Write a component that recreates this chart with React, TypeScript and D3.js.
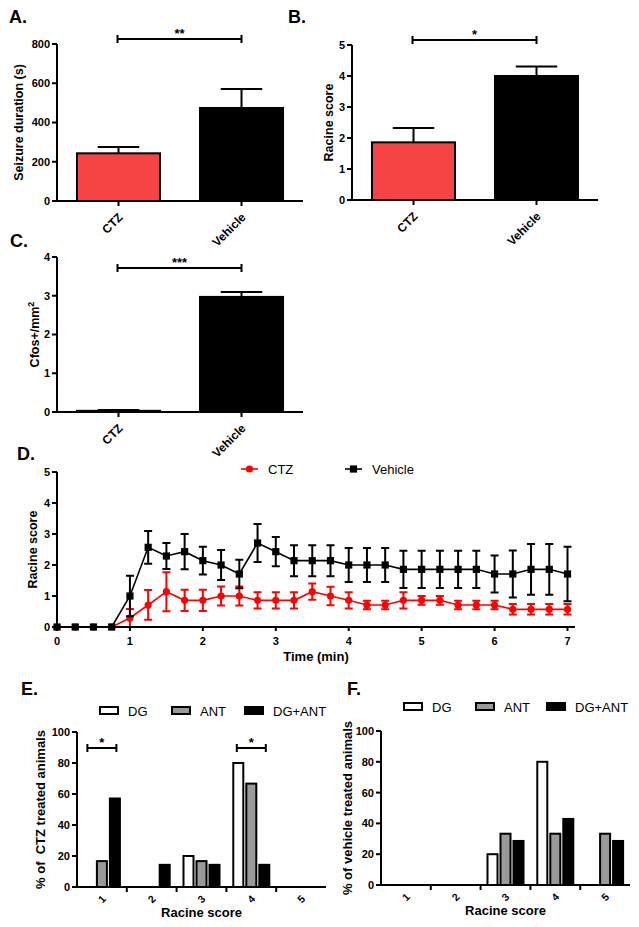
import React from 'react';
import * as d3 from 'd3';

const FONT = "'Liberation Sans', Arial, Helvetica, sans-serif";

// Panels A-C
const treatments = ['CTZ', 'Vehicle'];
const treatmentFills = ['#f64343', '#000000'];
const seizureMean = [243, 474];
const seizureSem = [32, 97];
const seizureTicks = [0, 200, 400, 600, 800];
const racineMean = [1.86, 4.0];
const racineSem = [0.46, 0.31];
const racineTicks = [0, 1, 2, 3, 4, 5];
const cfosMean = [0.03, 2.97];
const cfosSem = [0.02, 0.13];
const cfosTicks = [0, 1, 2, 3, 4];

// Panel D
const times = [0, 0.25, 0.5, 0.75, 1, 1.25, 1.5, 1.75, 2, 2.25, 2.5, 2.75, 3, 3.25, 3.5, 3.75, 4, 4.25, 4.5, 4.75, 5, 5.25, 5.5, 5.75, 6, 6.25, 6.5, 6.75, 7];
const ctzScore = [0, 0, 0, 0, 0.29, 0.71, 1.14, 0.86, 0.86, 1.0, 1.0, 0.86, 0.86, 0.86, 1.14, 1.0, 0.86, 0.71, 0.71, 0.86, 0.86, 0.86, 0.71, 0.71, 0.71, 0.57, 0.57, 0.57, 0.57];
const ctzSem = [0, 0, 0, 0, 0.29, 0.48, 0.63, 0.34, 0.34, 0.31, 0.31, 0.26, 0.26, 0.26, 0.26, 0.3, 0.26, 0.14, 0.14, 0.26, 0.14, 0.14, 0.14, 0.14, 0.14, 0.17, 0.17, 0.17, 0.17];
const vehScore = [0, 0, 0, 0, 1.0, 2.57, 2.29, 2.43, 2.14, 2.0, 1.71, 2.71, 2.43, 2.14, 2.14, 2.14, 2.0, 2.0, 2.0, 1.86, 1.86, 1.86, 1.86, 1.86, 1.71, 1.71, 1.86, 1.86, 1.71];
const vehSem = [0, 0, 0, 0, 0.65, 0.53, 0.42, 0.57, 0.45, 0.48, 0.46, 0.61, 0.47, 0.5, 0.5, 0.5, 0.55, 0.55, 0.55, 0.6, 0.6, 0.6, 0.6, 0.6, 0.6, 0.76, 0.82, 0.82, 0.88];
const timeTicks = [0, 1, 2, 3, 4, 5, 6, 7];

// Panels E-F
const scores = ['1', '2', '3', '4', '5'];
const regions = ['DG', 'ANT', 'DG+ANT'];
const regionFills = ['#ffffff', '#9a9a9a', '#000000'];
const ctzDG = [0, 0, 20, 80, 0];
const ctzANT = [16.7, 0, 16.7, 66.7, 0];
const ctzDGANT = [57.1, 14.3, 14.3, 14.3, 0];
const vehDG = [0, 0, 20, 80, 0];
const vehANT = [0, 0, 33.3, 33.3, 33.3];
const vehDGANT = [0, 0, 28.6, 42.9, 28.6];
const pctTicks = [0, 20, 40, 60, 80, 100];

const Sig = ({ x1, x2, y, text }: any) => (
  <g>
    <path d={`M${x1},${y - 4}V${y + 4}M${x1},${y}H${x2}M${x2},${y - 4}V${y + 4}`} stroke="#000" strokeWidth={2} fill="none" />
    <text x={(x1 + x2) / 2} y={y - 1} textAnchor="middle" fontSize={13} fontWeight="bold">{text}</text>
  </g>
);

const YAxis = ({ scale, x, ticks, top, bottom }: any) => (
  <g>
    <line x1={x} x2={x} y1={top} y2={bottom} stroke="#000" strokeWidth={2} />
    {ticks.map((t: number) => (
      <g key={t}>
        <line x1={x - 5} x2={x} y1={scale(t)} y2={scale(t)} stroke="#000" strokeWidth={2} />
        <text x={x - 7} y={scale(t)} dy="0.36em" textAnchor="end" fontSize={11} fontWeight="bold">{t}</text>
      </g>
    ))}
  </g>
);

function BarPanel({ left, right, top, bottom, max, ticks, means, sems, title, titleX, label, labelX, labelY, sigText, sigY }: any) {
  const y = d3.scaleLinear().domain([0, max]).range([bottom, top]);
  const x = d3.scaleBand().domain(treatments).range([left, right]);
  const bw = x.bandwidth() * 0.675;
  const cx = (k: string) => (x(k) as number) + x.bandwidth() / 2;
  return (
    <g>
      <text x={labelX} y={labelY} fontSize={18} fontWeight="bold">{label}</text>
      {treatments.map((k, i) => {
        const c = cx(k);
        const yt = y(means[i]);
        const ye = y(means[i] + sems[i]);
        return (
          <g key={k}>
            <line x1={c} x2={c} y1={yt} y2={ye} stroke="#000" strokeWidth={2} />
            <line x1={c - bw / 4} x2={c + bw / 4} y1={ye} y2={ye} stroke="#000" strokeWidth={2} />
            <rect x={c - bw / 2} y={yt} width={bw} height={Math.max(0.5, bottom - yt)} fill={treatmentFills[i]} stroke="#000" strokeWidth={2} />
          </g>
        );
      })}
      <YAxis scale={y} x={left} ticks={ticks} top={top} bottom={bottom} />
      <line x1={left} x2={right} y1={bottom} y2={bottom} stroke="#000" strokeWidth={2} />
      {treatments.map((k) => (
        <g key={k}>
          <line x1={cx(k)} x2={cx(k)} y1={bottom} y2={bottom + 5} stroke="#000" strokeWidth={2} />
          <text transform={`translate(${cx(k) + 5},${bottom + 17}) rotate(-45)`} textAnchor="end" fontSize={12} fontWeight="bold">{k}</text>
        </g>
      ))}
      <text transform={`translate(${titleX},${(top + bottom) / 2}) rotate(-90)`} textAnchor="middle" fontSize={12.5} fontWeight="bold">{title}</text>
      <Sig x1={cx('CTZ') - 1} x2={cx('Vehicle')} y={sigY} text={sigText} />
    </g>
  );
}

function LinePanel() {
  const left = 57, right = 575, top = 472, bottom = 627;
  const x = d3.scaleLinear().domain([0, 7]).range([left, 567.5]);
  const y = d3.scaleLinear().domain([0, 5]).range([bottom, top]);
  const line = d3.line<number>().x((d, i) => x(times[i])).y((d) => y(d));
  const series = [
    { name: 'CTZ', vals: ctzScore, sem: ctzSem, color: '#ff0000', shape: 'circle' },
    { name: 'Vehicle', vals: vehScore, sem: vehSem, color: '#000000', shape: 'square' },
  ];
  const marker = (shape: string, px: number, py: number, color: string, key?: any) =>
    shape === 'circle'
      ? <circle key={key} cx={px} cy={py} r={3.6} fill={color} />
      : <rect key={key} x={px - 3.6} y={py - 3.6} width={7.2} height={7.2} fill={color} />;
  const legendX = [241, 345];
  return (
    <g>
      <text x={17} y={460} fontSize={18} fontWeight="bold">D.</text>
      {series.map((s, si) => (
        <g key={s.name}>
          <path d={line(s.vals) as string} fill="none" stroke={s.color} strokeWidth={1.6} />
          {s.vals.map((v, i) => {
            if (s.sem[i] === 0) return null;
            const px = x(times[i]);
            const y1 = y(v + s.sem[i]);
            const y2 = y(Math.max(0, v - s.sem[i]));
            return (
              <path key={i} d={`M${px - 4},${y1}H${px + 4}M${px},${y1}V${y2}M${px - 4},${y2}H${px + 4}`} stroke={s.color} strokeWidth={2} fill="none" />
            );
          })}
          {s.vals.map((v, i) => marker(s.shape, x(times[i]), y(v), s.color, i))}
          <line x1={legendX[si]} x2={legendX[si] + 17} y1={469} y2={469} stroke={s.color} strokeWidth={1.6} />
          {marker(s.shape, legendX[si] + 8.5, 469, s.color)}
          <text x={legendX[si] + 27} y={473.5} fontSize={13}>{s.name}</text>
        </g>
      ))}
      <YAxis scale={y} x={left} ticks={racineTicks} top={top} bottom={bottom} />
      <line x1={left} x2={right} y1={bottom} y2={bottom} stroke="#000" strokeWidth={2} />
      {timeTicks.map((t) => (
        <g key={t}>
          <line x1={x(t)} x2={x(t)} y1={bottom} y2={bottom + 4} stroke="#000" strokeWidth={2} />
          <text x={x(t)} y={bottom + 18} textAnchor="middle" fontSize={11} fontWeight="bold">{t}</text>
        </g>
      ))}
      <text x={(left + right) / 2} y={661} textAnchor="middle" fontSize={13} fontWeight="bold">Time (min)</text>
      <text transform={`translate(37,${(top + bottom) / 2}) rotate(-90)`} textAnchor="middle" fontSize={12.5} fontWeight="bold">Racine score</text>
    </g>
  );
}

function GroupPanel({ left, right, top, bottom, data, title, titleX, label, labelX, legendY, legendXs, sigGroups }: any) {
  const x = d3.scaleBand().domain(scores).range([left, right]);
  const sub = d3.scaleBand().domain(regions).range([0, x.bandwidth()]).paddingInner(0.23).paddingOuter(0.53);
  const y = d3.scaleLinear().domain([0, 100]).range([bottom, top]);
  const w = sub.bandwidth();
  return (
    <g>
      <text x={labelX} y={695} fontSize={18} fontWeight="bold">{label}</text>
      {regions.map((r, ri) => (
        <g key={r}>
          <rect x={legendXs[ri]} y={legendY} width={18} height={7} fill={regionFills[ri]} stroke="#000" strokeWidth={2} />
          <text x={legendXs[ri] + 28} y={legendY + 8.5} fontSize={13}>{r}</text>
        </g>
      ))}
      {scores.map((s, si) =>
        regions.map((r, ri) => {
          const v = data[ri][si];
          if (!v) return null;
          const bx = (x(s) as number) + (sub(r) as number);
          return <rect key={s + r} x={bx} y={y(v)} width={w} height={bottom - y(v)} fill={regionFills[ri]} stroke="#000" strokeWidth={2} />;
        })
      )}
      <YAxis scale={y} x={left} ticks={pctTicks} top={top} bottom={bottom} />
      <line x1={left} x2={right} y1={bottom} y2={bottom} stroke="#000" strokeWidth={2} />
      {scores.map((s, si) => {
        const gx = x(s) as number;
        const c = gx + x.bandwidth() / 2;
        return (
          <g key={s}>
            {si > 0 && <line x1={gx} x2={gx} y1={bottom} y2={bottom + 5} stroke="#000" strokeWidth={2} />}
            <text transform={`translate(${c},${bottom + 12}) rotate(-45)`} textAnchor="middle" dy="0.35em" fontSize={10.5} fontWeight="bold">{s}</text>
          </g>
        );
      })}
      <text x={(left + right) / 2} y={bottom + 30} textAnchor="middle" fontSize={13} fontWeight="bold">Racine score</text>
      <text transform={`translate(${titleX},${(top + bottom) / 2}) rotate(-90)`} textAnchor="middle" fontSize={13} fontWeight="bold" style={{ whiteSpace: 'pre' }}>{title}</text>
      {sigGroups.map((s: string) => {
        const gx = x(s) as number;
        const x1 = gx + (sub('DG') as number) + w / 2 - 1.5;
        const x2 = gx + (sub('DG+ANT') as number) + w / 2 + 1.5;
        return <Sig key={s} x1={x1} x2={x2} y={748} text="*" />;
      })}
    </g>
  );
}

export default function App() {
  return (
    <svg width={639} height={927} style={{ position: 'absolute', left: 0, top: 0, background: '#fff' }} fontFamily={FONT}>
      <rect width={639} height={927} fill="#fff" />
      <BarPanel left={57} right={303} top={44} bottom={201} max={800} ticks={seizureTicks} means={seizureMean} sems={seizureSem}
        title="Seizure duration (s)" titleX={23} label="A." labelX={9} labelY={23} sigText="**" sigY={39} />
      <BarPanel left={352} right={598} top={45} bottom={200} max={5} ticks={racineTicks} means={racineMean} sems={racineSem}
        title="Racine score" titleX={333} label="B." labelX={288} labelY={23} sigText="*" sigY={40} />
      <BarPanel left={57} right={303} top={257} bottom={412} max={4} ticks={cfosTicks} means={cfosMean} sems={cfosSem}
        title={<><tspan>Cfos+/mm</tspan><tspan dy={-5} fontSize={9}>2</tspan></>} titleX={39} label="C." labelX={10} labelY={247} sigText="***" sigY={268} />
      <LinePanel />
      <GroupPanel left={77} right={326} top={732} bottom={887} data={[ctzDG, ctzANT, ctzDGANT]}
        title={'% of  CTZ treated animals'} titleX={45} label="E." labelX={21} legendY={707} legendXs={[100, 172, 245]} sigGroups={['1', '4']} />
      <GroupPanel left={381} right={630} top={731} bottom={885} data={[vehDG, vehANT, vehDGANT]}
        title="% of vehicle treated animals" titleX={352} label="F." labelX={347} legendY={703} legendXs={[404, 476, 547]} sigGroups={[]} />
    </svg>
  );
}
